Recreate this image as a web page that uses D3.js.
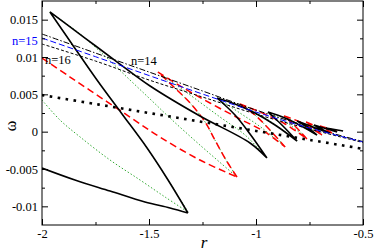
<!DOCTYPE html>
<html>
<head>
<meta charset="utf-8">
<script src="https://cdn.jsdelivr.net/npm/d3@7"></script>
<style>
body { margin: 0; background: #fff; }
text { font-family: "Liberation Serif", "Times New Roman", serif; }
</style>
</head>
<body>
<script>
// swallowtail branches (r, omega)
var blackR = [-2.000, -1.846, -1.682, -1.519, -1.402, -1.318,
  -1.411, -1.509, -1.626, -1.743, -1.860, -1.963,
  -1.799, -1.636, -1.495, -1.262, -1.028, -0.949,
  -1.028, -1.098, -1.182,
  -1.098, -1.005, -0.911, -0.808,
  -0.879, -0.944,
  -0.864, -0.780, -0.715,
  -0.762, -0.808,
  -0.734, -0.659,
  -0.729, -0.621, -0.673, -0.593];
var blackW = [-0.00487, -0.00647, -0.00795, -0.00942, -0.01022, -0.01089,
  -0.00647, -0.00219, 0.00237, 0.00692, 0.01174, 0.01603,
  0.01254, 0.00906, 0.00612, 0.0021, -0.00152, -0.00353,
  -0.00031, 0.00223, 0.00451,
  0.0037, 0.0025, 0.00089, -0.00125,
  0.00089, 0.00263,
  0.00183, 0.00063, -0.00045,
  0.00063, 0.00143,
  0.00063, -0.00018,
  0.00089, -0.00004, 0.00049, 0.00009];

var redR = [-2.000, -1.869, -1.729, -1.589, -1.449, -1.262, -1.089,
  -1.140, -1.192, -1.238, -1.308, -1.379, -1.458,
  -1.355, -1.215, -1.075, -0.958, -0.864,
  -0.935, -1.005, -1.075,
  -0.981, -0.864, -0.762,
  -0.818, -0.869,
  -0.794, -0.692,
  -0.766, -0.645, -0.701, -0.607];
var redW = [0.00986, 0.00732, 0.00464, 0.00196, -0.00071, -0.0038, -0.00607,
  -0.0038, -0.00112, 0.0013, 0.00384, 0.00585, 0.00799,
  0.00612, 0.00384, 0.0017, -0.00004, -0.00205,
  0.00022, 0.00223, 0.0037,
  0.00263, 0.00103, -0.00098,
  0.00076, 0.0021,
  0.0013, -0.00045,
  0.0013, -0.00018, 0.00076, -0.00004];

var greenR = [-2.000, -1.916, -1.822, -1.682, -1.542, -1.425, -1.318,
  -1.411, -1.509, -1.626, -1.743, -1.860, -1.963,
  -1.822, -1.706, -1.589, -1.495, -1.402, -1.262, -1.089,
  -1.140, -1.192, -1.238, -1.308, -1.379, -1.458,
  -1.308, -1.168, -1.051, -0.949,
  -1.028, -1.098, -1.182,
  -1.075, -0.972, -0.864,
  -0.935, -1.005, -1.075,
  -0.935, -0.808,
  -0.879, -0.944,
  -0.841, -0.762,
  -0.818, -0.869,
  -0.715, -0.808, -0.692, -0.766, -0.659];
var greenW = [0.00424, 0.00156, -0.00071, -0.0038, -0.00647, -0.00875, -0.01076,
  -0.00647, -0.00219, 0.00237, 0.00692, 0.01174, 0.01603,
  0.01308, 0.01013, 0.00692, 0.00437, 0.00183, -0.00179, -0.00607,
  -0.0038, -0.00112, 0.0013, 0.00384, 0.00585, 0.00799,
  0.00491, 0.00196, -0.00045, -0.00353,
  -0.00031, 0.00223, 0.00451,
  0.0025, 0.00049, -0.00205,
  0.00022, 0.00223, 0.0037,
  0.00143, -0.00125,
  0.00089, 0.00263,
  0.00089, -0.00098,
  0.00076, 0.0021,
  -0.00045, 0.00143, -0.00045, 0.0013, -0.00018];

// straight-ish lines sampled at these r values
var lineR = [-2, -1.75, -1.5, -1.25, -1, -0.75, -0.5];
var dotsW = [0.0049, 0.0037, 0.0025, 0.0013, 0.0001, -0.0011, -0.0023];
var n14W  = [0.01308, 0.01053, 0.00799, 0.00545, 0.0029, 0.00063, -0.00132];
var n15W  = [0.01254, 0.01004, 0.00752, 0.00504, 0.00263, 0.00049, -0.00138];
var n16W  = [0.01174, 0.00946, 0.00692, 0.00464, 0.00236, 0.00036, -0.00145];

var xTicks = [-2, -1.5, -1, -0.5],
    xLabels = ["-2", "-1.5", "-1", "-0.5"],
    xMinor = [-1.75, -1.25, -0.75];
var yTicks = [-0.01, -0.005, 0, 0.005, 0.01, 0.015],
    yLabels = ["-0.01", "-0.005", "0", "0.005", "0.01", "0.015"],
    yMinor = [-0.0075, -0.0025, 0.0025, 0.0075, 0.0125];

var margin = {top: 1, right: 11, bottom: 27, left: 42},
    width = 374 - margin.left - margin.right,
    height = 252 - margin.top - margin.bottom;

var x = d3.scaleLinear().domain([-2, -0.5]).range([0, width]);
var y = d3.scaleLinear().domain([-0.0125, 0.0175]).range([height, 0]);

var svg = d3.select("body").append("svg")
    .attr("width", 374)
    .attr("height", 252)
    .append("g")
    .attr("transform", "translate(" + margin.left + "," + margin.top + ")");

svg.append("clipPath").attr("id", "clip")
    .append("rect").attr("width", width).attr("height", height);

var smooth = d3.line().x(d => x(d[0])).y(d => y(d[1])).curve(d3.curveCatmullRom.alpha(0.5));
var plot = svg.append("g").attr("clip-path", "url(#clip)");

// split a branch at its cusps (where r turns back) and smooth each piece
function cuspPath(pts) {
    var pieces = [], cur = [pts[0]], dir = 0;
    for (var i = 1; i < pts.length; i++) {
        var s = Math.sign(pts[i][0] - pts[i - 1][0]);
        if (dir !== 0 && s !== dir) {
            pieces.push(cur);
            cur = [pts[i - 1]];
        }
        dir = s;
        cur.push(pts[i]);
    }
    pieces.push(cur);
    return pieces.map(p => smooth(p)).join("");
}

function draw(R, W, color, w, dash) {
    plot.append("path")
        .datum(d3.zip(R, W))
        .attr("fill", "none")
        .attr("stroke", color)
        .attr("stroke-width", w)
        .attr("stroke-dasharray", dash)
        .attr("stroke-linejoin", "round")
        .attr("d", cuspPath);
}

draw(greenR, greenW, "#33aa33", 1, "1.5,2");
draw(redR, redW, "#ff0000", 1.5, "7,4");
draw(blackR, blackW, "#000", 1.6, null);
draw(lineR, dotsW, "#000", 2.6, "2.6,5.4");
draw(lineR, n16W, "#000", 1, "3,2");
draw(lineR, n14W, "#000", 1, "6,2,1.5,2");
draw(lineR, n15W, "#0000ff", 1, "6,3");

// axes, ticks pointing inward
function styleAxis(g) {
    g.select(".domain").remove();
    g.selectAll("line").attr("stroke", "#000");
    g.selectAll("text").attr("font-family", "Liberation Serif").attr("font-size", 12.5).attr("fill", "#000");
}

svg.append("g").attr("transform", "translate(0," + height + ")")
    .call(d3.axisBottom(x).tickValues(xTicks).tickSize(-6).tickPadding(4)
        .tickFormat((d, i) => xLabels[i]))
    .call(styleAxis);
svg.append("g").attr("transform", "translate(0," + height + ")")
    .call(d3.axisBottom(x).tickValues(xMinor).tickSize(-3).tickFormat(""))
    .call(styleAxis);
svg.append("g")
    .call(d3.axisTop(x).tickValues(xTicks).tickSize(-6).tickFormat(""))
    .call(styleAxis);
svg.append("g")
    .call(d3.axisTop(x).tickValues(xMinor).tickSize(-3).tickFormat(""))
    .call(styleAxis);

svg.append("g")
    .call(d3.axisLeft(y).tickValues(yTicks).tickSize(-6).tickPadding(4)
        .tickFormat((d, i) => yLabels[i]))
    .call(styleAxis);
svg.append("g")
    .call(d3.axisLeft(y).tickValues(yMinor).tickSize(-3).tickFormat(""))
    .call(styleAxis);
svg.append("g").attr("transform", "translate(" + width + ",0)")
    .call(d3.axisRight(y).tickValues(yTicks).tickSize(-6).tickFormat(""))
    .call(styleAxis);
svg.append("g").attr("transform", "translate(" + width + ",0)")
    .call(d3.axisRight(y).tickValues(yMinor).tickSize(-3).tickFormat(""))
    .call(styleAxis);

svg.append("rect")
    .attr("width", width)
    .attr("height", height)
    .attr("fill", "none")
    .attr("stroke", "#000")
    .attr("stroke-width", 1);

// labels
var root = d3.select("svg");
root.append("text").attr("x", 12).attr("y", 45).attr("font-size", 12.5)
    .attr("fill", "#0000ff").text("n=15");
root.append("text").attr("x", 45).attr("y", 64).attr("font-size", 12.5)
    .text("n=16");
root.append("text").attr("x", 131).attr("y", 64.5).attr("font-size", 12.5)
    .text("n=14");

root.append("text")
    .attr("transform", "translate(16,126) rotate(-90)")
    .attr("text-anchor", "middle")
    .attr("font-size", 16)
    .text("ω");
root.append("text")
    .attr("x", 204).attr("y", 248)
    .attr("text-anchor", "middle")
    .attr("font-size", 17)
    .attr("font-style", "italic")
    .text("r");
</script>
</body>
</html>
